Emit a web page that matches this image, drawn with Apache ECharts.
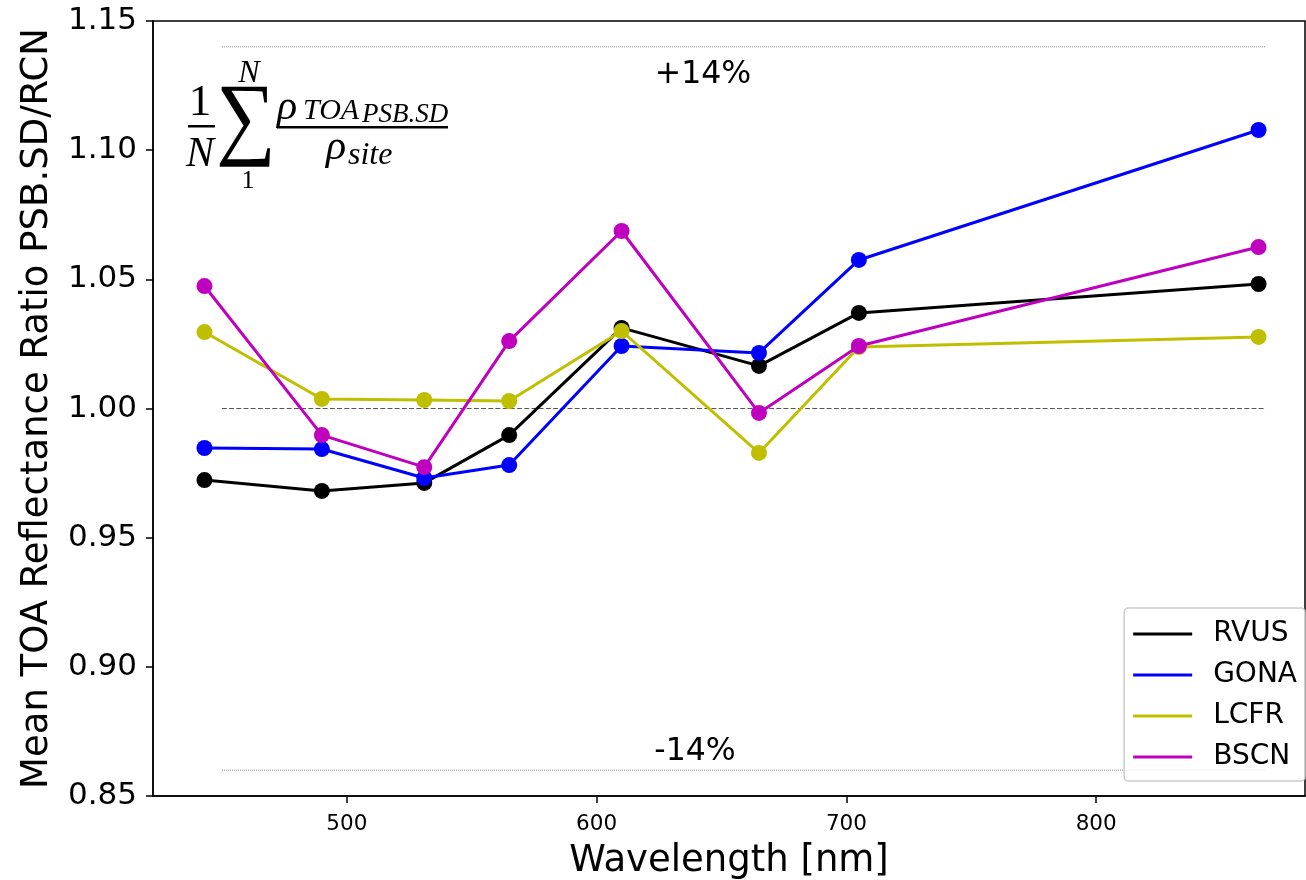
<!DOCTYPE html>
<html><head><meta charset="utf-8">
<script src="https://cdn.jsdelivr.net/npm/echarts@6/dist/echarts.min.js"></script>
<style>html,body{margin:0;padding:0;background:#fff}#c{width:1306px;height:880px}</style>
</head><body><div id="c"></div>
<script>
const wavelengths = [443, 490, 531, 565, 610, 665, 705, 865];
const RVUS = [0.9723, 0.9681, 0.9712, 0.9897, 1.0312, 1.0165, 1.0370, 1.0482];
const GONA = [0.9847, 0.9843, 0.9731, 0.9781, 1.0242, 1.0215, 1.0575, 1.1078];
const LCFR = [1.0296, 1.0037, 1.0033, 1.0029, 1.0300, 0.9828, 1.0238, 1.0277];
const BSCN = [1.0474, 0.9897, 0.9773, 1.0261, 1.0687, 0.9983, 1.0242, 1.0625];
const seriesNames = ['RVUS', 'GONA', 'LCFR', 'BSCN'];
const seriesColors = ['#000000', '#0000ff', '#bfbf00', '#bf00bf'];
const refX = [450, 868];
const upperRef = 1.14, lowerRef = 0.86, unityRef = 1.0;
const xTicks = [500, 600, 700, 800];

const font = 'DejaVu Sans';
const serif = 'Liberation Serif';
const chart = echarts.init(document.getElementById('c'));
const values = [RVUS, GONA, LCFR, BSCN];
const mainSeries = seriesNames.map((n, i) => ({
  name: n, type: 'line', data: wavelengths.map((w, j) => [w, values[i][j]]),
  symbol: 'circle', symbolSize: 16, showSymbol: true,
  lineStyle: {width: 3, color: seriesColors[i]},
  itemStyle: {color: seriesColors[i]}, z: 5 + i, animation: false
}));
function refLine(y, type, color, w) {
  return {type: 'line', data: refX.map(x => [x, y]), symbol: 'none', silent: true,
    lineStyle: {type: type, color: color, width: w}, z: 2, animation: false, legendHoverLink: false};
}
const f = (x, y, t, size, style, extra, more) => Object.assign({type: 'text', x: x, y: y,
  style: Object.assign({text: t, font: (style || 'italic') + ' ' + size + 'px "' + serif + '"', fill: '#000',
    verticalAlign: 'middle'}, extra || {})}, more || {});
chart.setOption({
  animation: false,
  grid: {left: 153, right: 1, top: 21, bottom: 84, show: true, borderColor: '#000', borderWidth: 1.5, outerBoundsMode: 'none', containLabel: false},
  xAxis: {type: 'value', min: 422.4, max: 883.6, name: 'Wavelength [nm]', nameLocation: 'middle', nameGap: 47,
    nameTextStyle: {fontFamily: font, fontSize: 37, color: '#000'},
    axisLine: {show: true, lineStyle: {color: '#000', width: 1.5}},
    axisTick: {show: true, length: 7, lineStyle: {color: '#000', width: 1.5}, customValues: xTicks},
    axisLabel: {fontFamily: font, fontSize: 21.5, color: '#000', margin: 17, customValues: xTicks},
    splitLine: {show: false}},
  yAxis: {type: 'value', min: 0.85, max: 1.15, interval: 0.05,
    name: 'Mean TOA Reflectance Ratio PSB.SD/RCN', nameLocation: 'middle', nameGap: 97,
    nameTextStyle: {fontFamily: font, fontSize: 37, color: '#000'},
    axisLine: {show: true, lineStyle: {color: '#000', width: 1.5}},
    axisTick: {show: true, length: 7, lineStyle: {color: '#000', width: 1.5}},
    axisLabel: {fontFamily: font, fontSize: 31, color: '#000', margin: 16, formatter: v => v.toFixed(2)},
    splitLine: {show: false}},
  legend: {data: seriesNames, orient: 'vertical', right: 1, bottom: 99, icon: 'rect', itemWidth: 59, itemHeight: 3,
    itemGap: 13, padding: [12, 8, 10, 9], borderColor: '#cccccc', borderWidth: 1.5, borderRadius: 4,
    backgroundColor: 'rgba(255,255,255,0.8)', textStyle: {fontFamily: font, fontSize: 28, color: '#000', padding: [0, 0, 0, 16]}},
  series: mainSeries.concat([
    refLine(upperRef, 'dotted', '#888', 1),
    refLine(lowerRef, 'dotted', '#888', 1),
    refLine(unityRef, 'dashed', '#555', 1.2)
  ]),
  graphic: [
    {type: 'text', x: 703, y: 75, style: {text: '+14%', font: '31.5px "' + font + '"', fill: '#000', align: 'center', verticalAlign: 'middle'}},
    {type: 'text', x: 695, y: 752, style: {text: '-14%', font: '31.5px "' + font + '"', fill: '#000', align: 'center', verticalAlign: 'middle'}},
    f(200, 103, '1', 45, 'normal', {align: 'center'}),
    {type: 'rect', shape: {x: 188, y: 125, width: 27, height: 2.5}, style: {fill: '#000'}},
    f(200, 155, 'N', 42, 'italic', {align: 'center'}),
    f(246, 136, '\u2211', 84, 'normal', {align: 'center'}, {originX: 246, originY: 136, scaleY: 1.1}),
    f(249, 74, 'N', 32, 'italic', {align: 'center'}),
    f(248, 181, '1', 26, 'normal', {align: 'center'}),
    f(277, 108, '\u03c1', 42, 'italic', {align: 'left'}),
    f(303, 111, 'TOA', 30, 'italic', {align: 'left'}),
    f(362, 115, 'PSB.SD', 27, 'italic', {align: 'left'}),
    {type: 'rect', shape: {x: 277, y: 126, width: 171, height: 2.5}, style: {fill: '#000'}},
    f(326, 148, '\u03c1', 42, 'italic', {align: 'left'}),
    f(348, 156, 'site', 32, 'italic', {align: 'left'})
  ]
});
</script></body></html>
